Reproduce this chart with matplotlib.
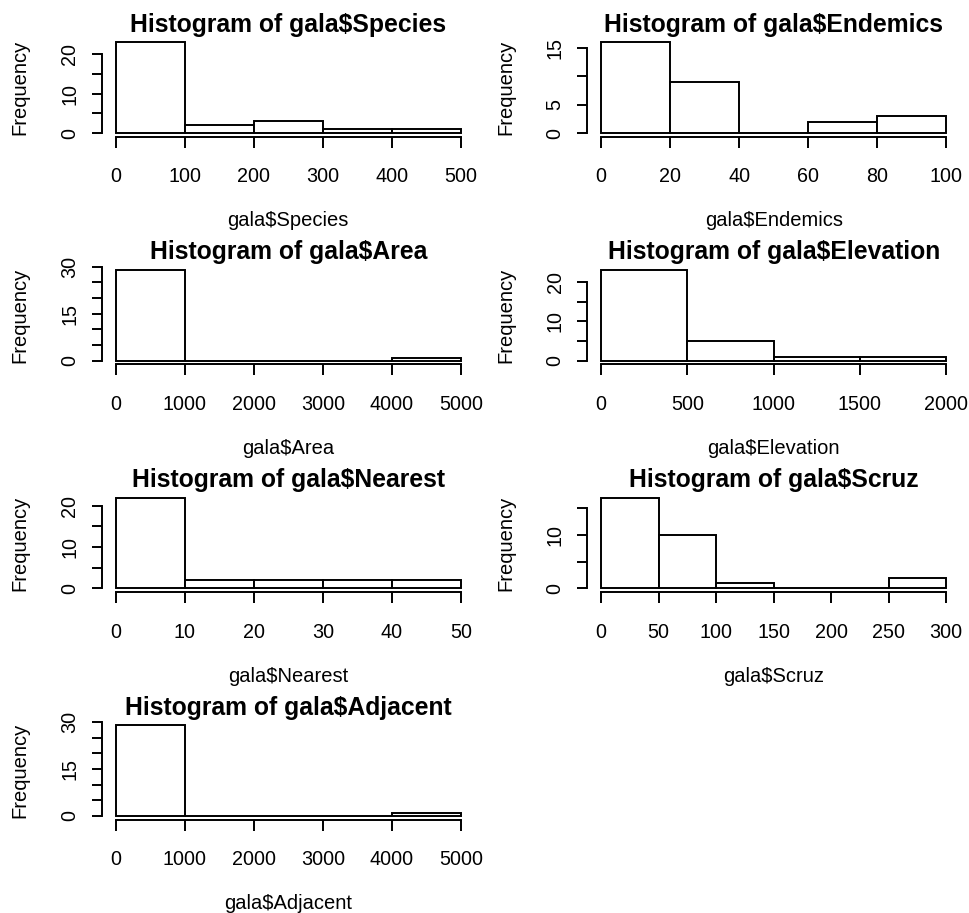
import matplotlib
matplotlib.use("Agg")
import matplotlib.pyplot as plt

plt.rcParams["font.family"] = ["Liberation Sans", "DejaVu Sans"]

names = ["Species", "Endemics", "Area", "Elevation", "Nearest", "Scruz", "Adjacent"]

species_edges = [0, 100, 200, 300, 400, 500]
species_counts = [23, 2, 3, 1, 1]
endemics_edges = [0, 20, 40, 60, 80, 100]
endemics_counts = [16, 9, 0, 2, 3]
area_edges = [0, 1000, 2000, 3000, 4000, 5000]
area_counts = [29, 0, 0, 0, 1]
elevation_edges = [0, 500, 1000, 1500, 2000]
elevation_counts = [23, 5, 1, 1]
nearest_edges = [0, 10, 20, 30, 40, 50]
nearest_counts = [22, 2, 2, 2, 2]
scruz_edges = [0, 50, 100, 150, 200, 250, 300]
scruz_counts = [17, 10, 1, 0, 0, 2]
adjacent_edges = [0, 1000, 2000, 3000, 4000, 5000]
adjacent_counts = [29, 0, 0, 0, 1]

all_edges = [species_edges, endemics_edges, area_edges, elevation_edges,
             nearest_edges, scruz_edges, adjacent_edges]
all_counts = [species_counts, endemics_counts, area_counts, elevation_counts,
              nearest_counts, scruz_counts, adjacent_counts]

# y ticks as R draws them (some labels dropped to avoid overlap)
yticks = [[0, 5, 10, 15, 20], [0, 5, 10, 15], [0, 5, 10, 15, 20, 25, 30],
          [0, 5, 10, 15, 20], [0, 5, 10, 15, 20], [0, 5, 10, 15],
          [0, 5, 10, 15, 20, 25, 30]]
ylabels = [["0", "", "10", "", "20"], ["0", "5", "", "15"],
           ["0", "", "", "15", "", "", "30"], ["0", "", "10", "", "20"],
           ["0", "", "10", "", "20"], ["0", "", "10", ""],
           ["0", "", "", "15", "", "", "30"]]

fig, axes = plt.subplots(4, 2, figsize=(9.7, 9.13), dpi=100)
fig.subplots_adjust(left=102 / 970, right=960 / 970,
                    top=1 - 38.7 / 913, bottom=1 - 819.6 / 913,
                    wspace=0.303, hspace=1.322)

lw = 1.4
fs = 14.2

for i, ax in enumerate(axes.flat):
    if i >= len(names):
        ax.remove()
        continue
    edges = all_edges[i]
    counts = all_counts[i]
    widths = [edges[k + 1] - edges[k] for k in range(len(counts))]
    ax.bar(edges[:-1], counts, width=widths, align="edge",
           facecolor="white", edgecolor="black", linewidth=lw)

    xr = edges[-1] - edges[0]
    ymax = max(counts)
    ax.set_xlim(edges[0] - 0.04 * xr, edges[-1] + 0.04 * xr)
    ax.set_ylim(-0.04 * ymax, ymax * 1.04)

    for s in ["top", "right"]:
        ax.spines[s].set_visible(False)
    ax.spines["left"].set_bounds(0, yticks[i][-1])
    ax.spines["bottom"].set_bounds(edges[0], edges[-1])
    ax.spines["left"].set_linewidth(lw)
    ax.spines["bottom"].set_linewidth(lw)

    ax.set_xticks(edges)
    ax.set_xticklabels([str(e) for e in edges])
    ax.set_yticks(yticks[i])
    ax.set_yticklabels(ylabels[i], rotation=90, va="center")
    ax.tick_params(axis="x", length=8, width=lw, pad=14, labelsize=fs)
    ax.tick_params(axis="y", length=7.5, width=lw, pad=9, labelsize=fs)

    ax.set_title("Histogram of gala$" + names[i], fontsize=17.8,
                 fontweight="bold", pad=5)
    ax.set_xlabel("gala$" + names[i], fontsize=14.5, labelpad=18)
    ax.set_ylabel("Frequency", fontsize=14.5, labelpad=22)

fig.savefig("out.png", dpi=100)
